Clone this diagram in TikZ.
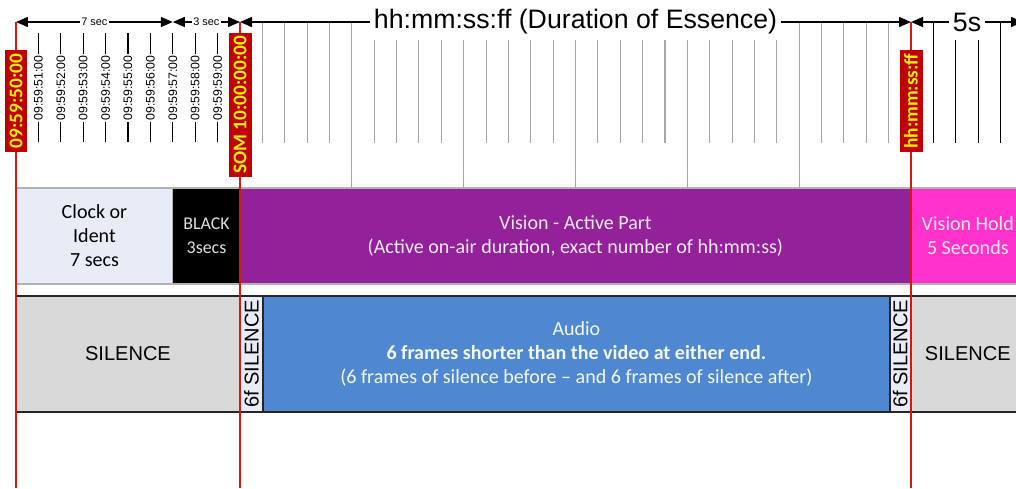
\documentclass[tikz,border=0pt]{standalone}
\usepackage{fontspec}
\setmainfont{Carlito}
\newfontfamily\arial{Liberation Sans}
\usetikzlibrary{arrows.meta}

\definecolor{somred}{HTML}{C00000}
\definecolor{linered}{HTML}{D41A10}
\definecolor{clockbg}{HTML}{E8ECF7}
\definecolor{vision}{HTML}{93219A}
\definecolor{visionhold}{HTML}{FF33CC}
\definecolor{audio}{HTML}{4F88D0}
\definecolor{silence}{HTML}{D9D9D9}
\definecolor{tickgray}{HTML}{A6A6A6}

\tikzset{
  calibri/.style={font=\fontsize{11.4}{13.7}\selectfont},
  vbox/.style={calibri, draw=gray!60, line width=0.6pt, anchor=north west, inner sep=0pt,
    outer sep=0pt, minimum height=1.92cm, align=center},
  abox/.style={calibri, draw=black!85, line width=1pt, anchor=north west, inner sep=0pt,
    outer sep=0pt, minimum height=2.32cm, align=center},
  timecode/.style={rotate=90, fill=somred, text=yellow, inner xsep=2pt, inner ysep=0pt,
    minimum height=0.46cm, font=\bfseries\fontsize{11}{13}\selectfont},
  ticklabel/.style={rotate=90, fill=white, inner xsep=1pt, inner ysep=0.5pt,
    font=\arial\fontsize{7}{8}\selectfont},
  dimsmall/.style={fill=white, inner sep=1pt, font=\arial\fontsize{6.2}{7}\selectfont},
  dimbig/.style={fill=white, inner xsep=2pt, inner ysep=0pt, minimum height=0.72cm,
    font=\arial\fontsize{15.2}{18}\selectfont},
  redline/.style={color=linered, line width=1.1pt}
}

\begin{document}
\begin{tikzpicture}[x=0.02cm, y=-0.02cm, >={Triangle[length=0.24cm, width=0.2cm]}]

\useasboundingbox (0,0) rectangle (1016,488);

% vision row
\node[vbox, fill=clockbg, minimum width=3.14cm] (clock) at (16,188) {Clock or\\Ident\\7 secs};
\node[vbox, fill=black, text=white!88!black, minimum width=1.34cm,
  font=\fontsize{10.2}{13.7}\selectfont] (black) at (clock.north east) {BLACK\\3secs};
\node[vbox, fill=vision, text=white!90!vision, minimum width=13.42cm] (active) at (black.north east)
  {Vision - Active Part\\(Active on-air duration, exact number of hh:mm:ss)};
\node[vbox, fill=visionhold, text=white!88!visionhold, minimum width=2.28cm] (hold) at (active.north east)
  {Vision Hold\\5 Seconds};

% audio row
\node[abox, fill=silence, minimum width=4.48cm] (silpre) at (16,296) {\arial SILENCE};
\node[abox, fill=clockbg, minimum width=0.46cm] (gappre) at (silpre.north east)
  {\rotatebox{90}{\arial 6f SILENCE}};
\node[abox, fill=audio, text=white!94!audio, minimum width=12.54cm] (audio) at (gappre.north east)
  {Audio\\\textbf{6 frames shorter than the video at either end.}\\(6 frames of silence before -- and 6 frames of silence after)};
\node[abox, fill=clockbg, minimum width=0.42cm] (gappost) at (audio.north east)
  {\rotatebox{90}{\arial 6f SILENCE}};
\node[abox, fill=silence, minimum width=2.28cm] (silpost) at (gappost.north east) {\arial SILENCE};

% ticks
\foreach \k in {1,...,9}{
	\draw[line width=0.6pt] ({16+22.4*\k},33)--({16+22.4*\k},142);
	\node[ticklabel] (pre\k) at ({16+22.4*\k},88) {09:59:5\k:00};
}
\foreach \k in {1,...,29}{
	\pgfmathsetmacro\tickend{ifthenelse(mod(\k,5)==0,188,143)}
	\draw[color=tickgray, line width=0.6pt] ({240+22.367*\k},23)--({240+22.367*\k},\tickend);
}
\foreach \k in {1,...,4}{
	\draw[line width=0.6pt] ({911+22.37*\k},23)--({911+22.37*\k},143);
}

% durations
\coordinate (t0) at (16,22);
\coordinate (t7) at (172.8,22);
\coordinate (som) at (240,22);
\coordinate (eom) at (911,22);
\coordinate (t5) at (1023,22);

\draw[<->, line width=0.8pt] (t0)--(t7) node[midway, dimsmall] (d7) {7 sec};
\draw[<->, line width=0.8pt] (t7)--(som) node[midway, dimsmall] (d3) {3 sec};
\draw[<->, line width=0.8pt] (som)--(eom) node[midway, dimbig] (dess) {hh:mm:ss:ff (Duration of Essence)};
\draw[<->, line width=0.8pt] (eom)--(t5) node[midway, dimbig] (d5) {5s};

% time code markers
\coordinate (b0) at (16,488);
\coordinate (bsom) at (240,488);
\coordinate (beom) at (911,488);

\draw[redline] (t0)--(b0);
\draw[redline] (som)--(bsom);
\draw[redline] (eom)--(beom);

\node[timecode] (tcstart) at (16,101) {09:59:50:00};
\node[timecode] (tcsom) at (240,105) {SOM 10:00:00:00};
\node[timecode] (tceom) at (911,101) {hh:mm:ss:ff};

\end{tikzpicture}
\end{document}
